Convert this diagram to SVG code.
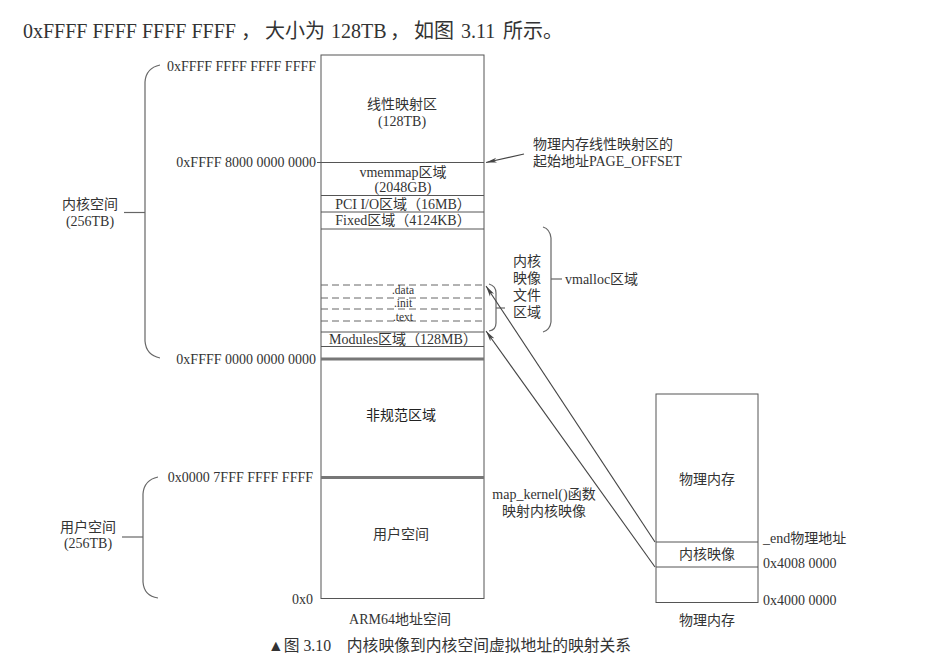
<svg xmlns="http://www.w3.org/2000/svg" width="925" height="664" viewBox="0 0 925 664">
<defs>
<style>
text{font-family:"Liberation Serif","Noto Sans CJK SC",serif;fill:#333;font-size:14px;dominant-baseline:central}
.c{text-anchor:middle}
.r{text-anchor:end}
.ln{stroke:#555;stroke-width:1;fill:none}
.thick{stroke:#777;stroke-width:3;fill:none}
.dash{stroke:#666;stroke-width:1;stroke-dasharray:7 4;fill:none}
.brace{stroke:#666;stroke-width:1.2;fill:none}
.arr{stroke:#444;stroke-width:1.1;fill:none;marker-end:url(#ah)}
.sm{font-size:11.5px}
</style>
<marker id="ah" markerWidth="12" markerHeight="6" refX="11" refY="3" orient="auto" markerUnits="userSpaceOnUse">
<path d="M0,0.5 L11,3 L0,5.5 L3,3 z" fill="#444"/>
</marker>
</defs>
<rect width="925" height="664" fill="#fff"/>

<text x="23" y="31" style="font-size:20px">0xFFFF FFFF FFFF FFFF<tspan x="241">，</tspan><tspan x="265">大小为</tspan><tspan x="331">128TB</tspan><tspan x="390">，</tspan><tspan x="414">如图</tspan><tspan x="461">3.11</tspan><tspan x="503">所示。</tspan></text>

<g id="kernel-brace">
<path class="brace" d="M160,65 Q146,68 145,82 L145,341 Q146,355 160,358"/>
<line class="brace" x1="124" y1="212.5" x2="145" y2="212.5"/>
<text class="c" x="90" y="204">内核空间</text>
<text class="c" x="90" y="221.5">(256TB)</text>
</g>
<g id="user-brace">
<path class="brace" d="M158,477 Q144,480 143,494 L143,582 Q144,596 158,598"/>
<line class="brace" x1="122" y1="537" x2="143" y2="537"/>
<text class="c" x="88" y="527">用户空间</text>
<text class="c" x="88" y="543.5">(256TB)</text>
</g>

<g id="addresses">
<text class="r" x="316" y="66">0xFFFF FFFF FFFF FFFF</text>
<text class="r" x="316" y="162.5">0xFFFF 8000 0000 0000</text>
<text class="r" x="316" y="359">0xFFFF 0000 0000 0000</text>
<text class="r" x="313" y="477">0x0000 7FFF FFFF FFFF</text>
<text class="r" x="313" y="599">0x0</text>
</g>

<g id="arm64-space">
<rect class="ln" x="321" y="55" width="163" height="543.5"/>
<line class="ln" x1="317" y1="162.5" x2="484" y2="162.5"/>
<line class="ln" x1="321" y1="195.5" x2="484" y2="195.5"/>
<line class="ln" x1="321" y1="212" x2="484" y2="212"/>
<line class="ln" x1="321" y1="229" x2="484" y2="229"/>
<line class="dash" x1="321" y1="285" x2="484" y2="285"/>
<line class="dash" x1="321" y1="298" x2="484" y2="298"/>
<line class="dash" x1="321" y1="309" x2="484" y2="309"/>
<line class="dash" x1="321" y1="321" x2="484" y2="321"/>
<line class="ln" x1="321" y1="332" x2="484" y2="332"/>
<line class="ln" x1="321" y1="346.5" x2="484" y2="346.5"/>
<line class="thick" x1="321" y1="359" x2="484" y2="359"/>
<line class="thick" x1="321" y1="477.5" x2="484" y2="477.5"/>
<text class="c" x="402" y="104">线性映射区</text>
<text class="c" x="402" y="121">(128TB)</text>
<text class="c" x="403" y="172">vmemmap区域</text>
<text class="c" x="403" y="187">(2048GB)</text>
<text class="c" x="403" y="204.5">PCI I/O区域（16MB）</text>
<text class="c" x="403" y="220.5">Fixed区域（4124KB）</text>
<text class="c sm" x="403" y="289.5">.data</text>
<text class="c sm" x="403" y="303">.init</text>
<text class="c sm" x="403" y="316.5">.text</text>
<text class="c" x="403" y="339.5">Modules区域（128MB）</text>
<text class="c" x="401" y="415" style="fill:#222">非规范区域</text>
<text class="c" x="401" y="534">用户空间</text>
<text class="c" x="400" y="619">ARM64地址空间</text>
</g>

<g id="page-offset-label">
<text x="533" y="144">物理内存线性映射区的</text>
<text x="533" y="161">起始地址PAGE_OFFSET</text>
</g>

<g id="vmalloc-brace">
<path class="brace" d="M543,227 Q550,229 551,238 L551,322 Q550,330 543,332"/>
<line class="brace" x1="551" y1="279" x2="562" y2="279"/>
<text x="565" y="279">vmalloc区域</text>
<text class="c" x="527" y="261">内核</text>
<text class="c" x="527" y="278">映像</text>
<text class="c" x="527" y="295">文件</text>
<text class="c" x="527" y="312">区域</text>
</g>

<g id="image-brace">
<path class="brace" d="M489,284 Q496,286 496,293 L496,323 Q496,330 489,331"/>
<line class="brace" x1="496" y1="308" x2="505" y2="308"/>
</g>

<g id="physical-memory">
<rect class="ln" x="656" y="394" width="102" height="208.5"/>
<line class="ln" x1="656" y1="542" x2="758" y2="542"/>
<line class="ln" x1="656" y1="567" x2="758" y2="567"/>
<text class="c" x="707" y="479">物理内存</text>
<text class="c" x="707" y="554">内核映像</text>
<text x="763" y="538">_end物理地址</text>
<text x="763" y="563.5">0x4008 0000</text>
<text x="763" y="600">0x4000 0000</text>
<text class="c" x="707" y="620">物理内存</text>
</g>

<g id="map-label">
<text class="c" x="544" y="494">map_kernel()函数</text>
<text class="c" x="544" y="511.5">映射内核映像</text>
</g>

<g id="connectors">
<line class="arr" x1="524" y1="154" x2="486" y2="162.5"/>
<line class="arr" x1="655" y1="542" x2="486" y2="286"/>
<line class="arr" x1="655" y1="567" x2="486" y2="331"/>
</g>

<text x="268" y="645" style="font-size:15.8px">▲图 3.10　内核映像到内核空间虚拟地址的映射关系</text>
</svg>
